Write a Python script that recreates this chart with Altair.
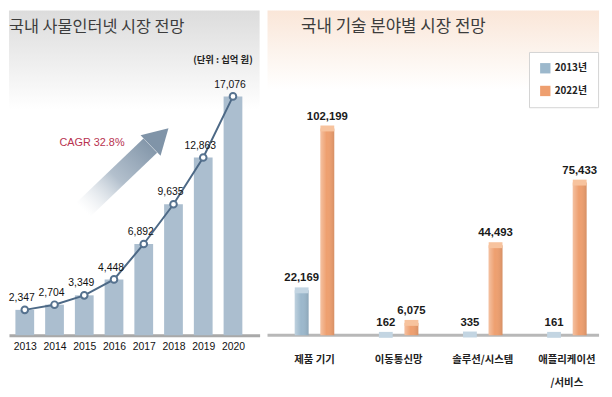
import altair as alt
import pandas as pd

# ---- data ----
years = [2013, 2014, 2015, 2016, 2017, 2018, 2019, 2020]
market = [2347, 2704, 3349, 4448, 6892, 9635, 12863, 17076]

categories = ["제품 기기", "이동통신망", "솔루션/시스템", "애플리케이션\n/서비스"]
series = ["2013년", "2022년"]
values_2013 = [22169, 162, 335, 161]
values_2022 = [102199, 6075, 44493, 75433]

left_title = "국내 사물인터넷 시장 전망"
right_title = "국내 기술 분야별 시장 전망"
unit_text = "(단위 : 십억 원)"
cagr_text = "CAGR 32.8%"

# decorative arrow (in data units of the left panel)
arrow_years = [2014.96, 2017.22]
arrow_values = [9246, 13679]
arrow_head_year = [2017.53]
arrow_head_value = [14285]
cagr_year = [2015.26]
cagr_value = [13876]

NUM_FONT = "Liberation Sans"
KR_FONT = "Noto Sans CJK KR"

# ---- left panel ----
LW, LH = 254, 329
df_l = pd.DataFrame({"year": years, "value": market})

xl = alt.X("year:Q",
           scale=alt.Scale(domain=[2012.469, 2020.896], nice=False, zero=False, padding=0),
           axis=alt.Axis(values=years, format="d", title=None, grid=False, ticks=False,
                         domainColor="#a9a9a9", domainWidth=3, labelFont=NUM_FONT,
                         labelFontSize=10.5, labelColor="#111111", labelPadding=7,
                         labelFlush=False))
yl = alt.Y("value:Q", scale=alt.Scale(domain=[600, 23000], nice=False, zero=False), axis=None)

one = pd.DataFrame({"a": [0]})

header_l = alt.Chart(one).mark_rect(
    fill=alt.LinearGradient(gradient="linear",
                            stops=[alt.GradientStop(color="#dcdcdc", offset=0),
                                   alt.GradientStop(color="#efefef", offset=0.55),
                                   alt.GradientStop(color="#ffffff", offset=1)],
                            x1=0, x2=0, y1=0, y2=1)
).encode(x=alt.value(0), x2=alt.value(LW), y=alt.value(0), y2=alt.value(100))

df_arrow = pd.DataFrame({"year": arrow_years, "value": arrow_values})
shaft = alt.Chart(df_arrow).mark_line(
    strokeWidth=20, strokeCap="butt",
    stroke=alt.LinearGradient(gradient="linear",
                              stops=[alt.GradientStop(color="rgba(220,226,232,0)", offset=0),
                                     alt.GradientStop(color="#b3c0cd", offset=0.5),
                                     alt.GradientStop(color="#8598ab", offset=1)],
                              x1=0, y1=1, x2=1, y2=0)
).encode(x=xl, y=yl)

df_head = pd.DataFrame({"year": arrow_head_year, "value": arrow_head_value})
head = alt.Chart(df_head).mark_point(shape="triangle-up", size=850, filled=True,
                                     color="#8094a8", opacity=1, angle=46).encode(x=xl, y=yl)

df_cagr = pd.DataFrame({"year": cagr_year, "value": cagr_value, "t": [cagr_text]})
cagr = alt.Chart(df_cagr).mark_text(font=NUM_FONT, fontSize=11, color="#b8324f",
                                    align="center", baseline="middle").encode(
    x=xl, y=yl, text="t:N")

bars_l = alt.Chart(df_l).mark_bar(size=19, color="#abbecf").encode(x=xl, y=yl, y2=alt.datum(600))
line_l = alt.Chart(df_l).mark_line(color="#4d6986", strokeWidth=2).encode(x=xl, y=yl)
pts_l = alt.Chart(df_l).mark_point(filled=True, fill="white", stroke="#56728f", strokeWidth=2,
                                   size=45, opacity=1).encode(x=xl, y=yl)
lbl_l = alt.Chart(df_l).mark_text(font=NUM_FONT, fontSize=10.5, color="#111111", dx=-3, dy=-9,
                                  baseline="alphabetic", align="center").encode(
    x=xl, y=yl, text=alt.Text("value:Q", format=","))

title_l = alt.Chart(pd.DataFrame({"t": [left_title]})).mark_text(
    font=KR_FONT, fontSize=16.5, color="#3c3c3c", align="left", baseline="middle").encode(
    x=alt.value(0), y=alt.value(17), text="t:N")
unit_l = alt.Chart(pd.DataFrame({"t": [unit_text]})).mark_text(
    font=KR_FONT, fontSize=9.5, fontWeight="bold", color="#222222", align="right",
    baseline="middle").encode(x=alt.value(247), y=alt.value(50), text="t:N")

left = alt.layer(header_l, shaft, head, cagr, bars_l, line_l, pts_l, lbl_l, title_l, unit_l).properties(
    width=LW, height=LH)

# ---- right panel ----
RW, RH = 336, 329
rows = []
for c, a, b in zip(categories, values_2013, values_2022):
    rows.append({"cat": c, "series": series[0], "value": a})
    rows.append({"cat": c, "series": series[1], "value": b})
df_r = pd.DataFrame(rows)

xr = alt.X("cat:N", sort=categories,
           scale=alt.Scale(range=[5, 346], paddingInner=0, paddingOuter=0),
           axis=alt.Axis(title=None, labelExpr="split(datum.label, '\\n')", labelAngle=0,
                         ticks=False, grid=False, domain=False,
                         labelFont=KR_FONT, labelFontSize=10.5, labelFontWeight="bold",
                         labelColor="#222222", labelPadding=20, labelLineHeight=23,
                         labelBaseline="top"))
xo = alt.XOffset("series:N", sort=series, scale=alt.Scale(paddingInner=0.46, paddingOuter=0.87))
yr = alt.Y("value:Q", scale=alt.Scale(domain=[0, 160500], nice=False), axis=None, stack=None)

header_r = alt.Chart(one).mark_rect(
    fill=alt.LinearGradient(gradient="linear",
                            stops=[alt.GradientStop(color="#fae6d8", offset=0),
                                   alt.GradientStop(color="#fcf3ec", offset=0.5),
                                   alt.GradientStop(color="#ffffff", offset=1)],
                            x1=0, x2=0, y1=0, y2=1)
).encode(x=alt.value(0), x2=alt.value(RW), y=alt.value(0), y2=alt.value(80))

base_r = alt.Chart(one).mark_rule(color="#b8b8b8", strokeWidth=3).encode(
    x=alt.value(0), x2=alt.value(RW), y=alt.value(RH))

bars_r = alt.Chart(df_r).mark_bar().encode(
    x=xr, xOffset=xo, y=yr,
    color=alt.Color("series:N", sort=series,
                    scale=alt.Scale(domain=series, range=["#9cb8cc", "#ee9f6f"]),
                    legend=alt.Legend(title=None, orient="none", legendX=265, legendY=42,
                                      symbolType="square", symbolSize=110, symbolStrokeWidth=0,
                                      labelFont=KR_FONT, labelFontSize=10, labelFontWeight="bold",
                                      labelColor="#222222", strokeColor="#d3d3d3",
                                      fillColor="white", padding=11, rowPadding=12)))
shade_r = alt.Chart(df_r).mark_bar(
    fill=alt.LinearGradient(gradient="linear",
                            stops=[alt.GradientStop(color="rgba(255,255,255,0.35)", offset=0),
                                   alt.GradientStop(color="rgba(255,255,255,0)", offset=0.45),
                                   alt.GradientStop(color="rgba(0,0,0,0.10)", offset=1)],
                            x1=0, x2=1, y1=0, y2=0)
).encode(x=xr, xOffset=xo, y=yr)
caps_r = alt.Chart(df_r).mark_tick(size=14, thickness=6, orient="horizontal", opacity=1).encode(
    x=xr, xOffset=xo, y=yr,
    color=alt.Color("series:N", sort=series,
                    scale=alt.Scale(domain=series, range=["#c3d5e2", "#f7c39e"]), legend=None))
lbl_r = alt.Chart(df_r).mark_text(font=NUM_FONT, fontSize=11.5, fontWeight="bold", color="#1a1a1a",
                                  dy=-9, baseline="alphabetic", align="center").encode(
    x=xr, xOffset=xo, y=yr, text=alt.Text("value:Q", format=","))
title_r = alt.Chart(pd.DataFrame({"t": [right_title]})).mark_text(
    font=KR_FONT, fontSize=17, color="#3c3c3c", align="left", baseline="middle").encode(
    x=alt.value(34), y=alt.value(17), text="t:N")

right = alt.layer(header_r, base_r, bars_r, shade_r, caps_r, lbl_r, title_r).resolve_scale(
    color="independent").properties(width=RW, height=RH)

chart = alt.hconcat(left, right, spacing=6).resolve_scale(
    x="independent", y="independent", color="independent").configure_view(
    stroke=None).properties(padding=0)

chart.save("out.html", embed_options={"renderer": "svg", "actions": False})
